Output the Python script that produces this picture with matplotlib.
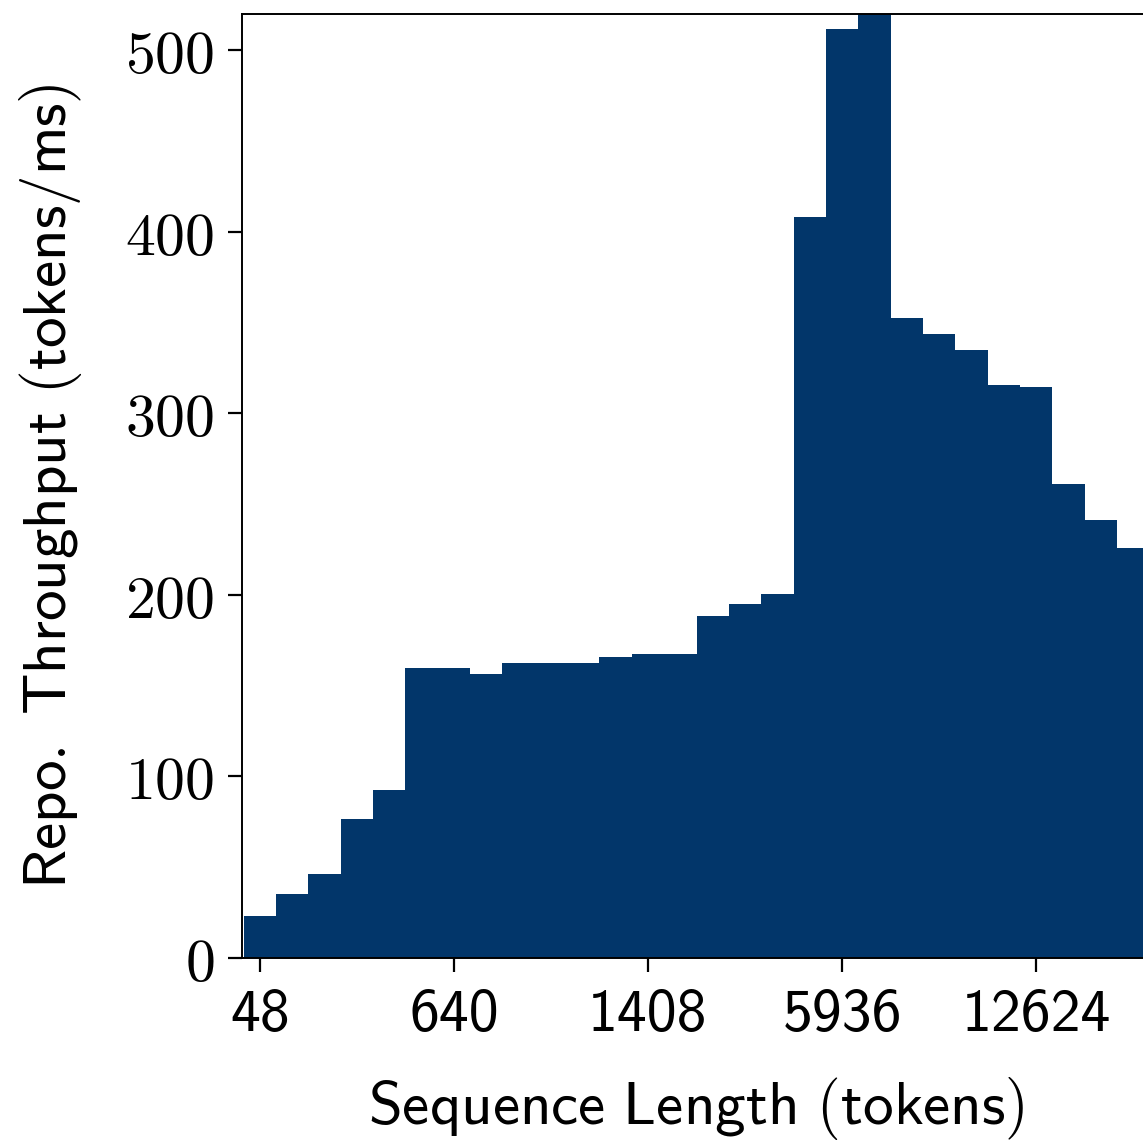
import numpy as np
import matplotlib
matplotlib.use('Agg')
import matplotlib.pyplot as plt

plt.rcParams['mathtext.fontset'] = 'cm'

# throughput per sequence-length bin (tokens/ms)
throughput = [23.1, 35.0, 46.0, 76.4, 92.3, 159.9, 159.7, 156.6, 162.6, 162.6,
              162.4, 165.8, 167.5, 167.4, 188.4, 195.2, 200.3, 408.1, 511.6, 545.0,
              352.5, 343.9, 335.1, 315.7, 314.5, 260.9, 241.1, 226.1]
tick_pos = [0, 6, 12, 18, 24]
tick_labels = ['48', '640', '1408', '5936', '12624']
y_ticks = [0, 100, 200, 300, 400, 500]

bar_color = '#02366a'
fs = 43

fig = plt.figure(figsize=(11.43, 11.41), dpi=100)
# right spine sits just outside the canvas like in the original crop
ax = fig.add_axes([242 / 1143, 1 - 958 / 1141, 909 / 1143, 944 / 1141])

x = np.arange(len(throughput))
ax.bar(x, throughput, width=1.0, color=bar_color, linewidth=0)

ax.set_xlim(-0.556, 27.556)
ax.set_ylim(0, 520)

ax.set_xticks(tick_pos, tick_labels, fontfamily='cmss10')
ax.set_yticks(y_ticks, ['$' + str(v) + '$' for v in y_ticks])
ax.tick_params(axis='both', labelsize=fs, length=10, width=1.6, direction='out')
ax.tick_params(axis='x', pad=12)
ax.tick_params(axis='y', pad=10)
for sp in ax.spines.values():
    sp.set_linewidth(1.4)

ax.set_xlabel(r'$\mathsf{Sequence\ Length\ (tokens)}$', fontsize=44)
ax.set_ylabel(r'$\mathsf{Repo.\ Throughput\ (tokens/ms)}$', fontsize=44)
ax.xaxis.set_label_coords(0.5, -0.124)
ax.yaxis.set_label_coords(-0.174, 0.5)

fig.savefig('out.png', dpi=100)
